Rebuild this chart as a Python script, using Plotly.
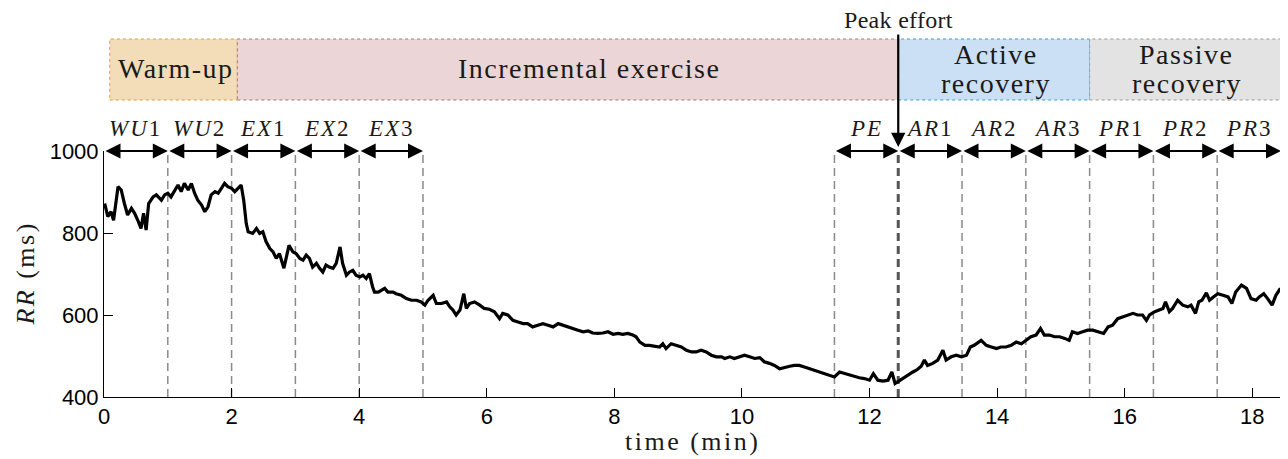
import plotly.graph_objects as go

# ---------------- data ----------------
t_min = [0.01, 0.06, 0.11, 0.15, 0.22, 0.27, 0.32, 0.37, 0.43, 0.48, 0.53, 0.58, 0.62, 0.66, 0.70, 0.77, 0.82, 0.90, 0.95,
         1.00, 1.05, 1.11, 1.16, 1.21, 1.26, 1.32, 1.37, 1.42, 1.47, 1.53, 1.58, 1.63, 1.68, 1.74, 1.79, 1.84, 1.89, 1.94,
         2.00, 2.05, 2.10, 2.15, 2.19, 2.23, 2.26, 2.33, 2.39, 2.44, 2.49, 2.54, 2.60, 2.65, 2.70, 2.75, 2.82, 2.86, 2.90,
         2.96, 3.01, 3.07, 3.12, 3.17, 3.22, 3.27, 3.33, 3.38, 3.43, 3.48, 3.53, 3.59, 3.64, 3.70, 3.74, 3.80, 3.85, 3.90,
         3.95, 4.01, 4.06, 4.11, 4.16, 4.21, 4.24, 4.30, 4.35, 4.40, 4.45, 4.53, 4.58, 4.66, 4.74, 4.82, 4.90, 4.97, 5.03,
         5.08, 5.16, 5.21, 5.29, 5.37, 5.42, 5.47, 5.52, 5.58, 5.64, 5.68, 5.73, 5.81, 5.89, 5.96,
         6.04, 6.12, 6.20, 6.25, 6.33, 6.41, 6.49, 6.57, 6.64, 6.72, 6.80, 6.88, 6.96, 7.04, 7.12, 7.19, 7.27, 7.35, 7.43,
         7.51, 7.59, 7.66, 7.74, 7.82, 7.90, 7.98, 8.06, 8.13, 8.21, 8.29, 8.34, 8.40, 8.48, 8.55, 8.63, 8.71, 8.76, 8.81,
         8.89, 8.97, 9.05, 9.13, 9.21, 9.28, 9.36, 9.44, 9.52, 9.60,
         9.68, 9.73, 9.81, 9.88, 9.96, 10.04, 10.12, 10.20, 10.28, 10.35, 10.43, 10.51, 10.59, 10.67, 10.75, 10.82, 10.90,
         10.98, 11.06, 11.14, 11.22, 11.30, 11.37, 11.45, 11.53, 11.61, 11.69, 11.77, 11.84, 11.92, 12.00, 12.06, 12.13,
         12.21, 12.29, 12.35, 12.40, 12.44,
         12.52, 12.60, 12.68, 12.75, 12.81, 12.86, 12.91, 12.99, 13.07, 13.15, 13.20, 13.28, 13.36, 13.44, 13.52, 13.58,
         13.64, 13.75, 13.83, 13.91, 13.99, 14.06, 14.14, 14.22, 14.30, 14.38, 14.46, 14.53, 14.61, 14.68, 14.74, 14.82,
         14.90, 14.98, 15.06, 15.13, 15.18, 15.26, 15.34, 15.42, 15.50,
         15.60, 15.67, 15.74, 15.81, 15.89, 15.97, 16.05, 16.13, 16.20, 16.28, 16.34, 16.39, 16.47, 16.55, 16.60, 16.64,
         16.70, 16.75, 16.83, 16.91, 16.99, 17.04, 17.11, 17.16, 17.21, 17.28, 17.33, 17.39, 17.46, 17.54, 17.62, 17.68,
         17.74, 17.83, 17.91, 17.98, 18.06, 18.11, 18.18, 18.24, 18.31, 18.37, 18.44]

rr_ms = [872, 840, 852, 831, 913, 905, 872, 844, 860, 848, 831, 811, 848, 807, 872, 888, 893, 880, 893,
         897, 888, 905, 917, 901, 921, 905, 921, 897, 880, 868, 852, 864, 893, 901, 897, 909, 921, 913,
         909, 901, 909, 917, 880, 823, 803, 799, 811, 799, 803, 779, 762, 754, 738, 750, 714, 746, 770,
         754, 750, 738, 734, 746, 738, 717, 726, 714, 705, 722, 717, 714, 726, 766, 726, 697, 705, 709,
         697, 693, 697, 689, 701, 669, 656, 656, 661, 665, 656, 656, 652, 648, 640, 636, 636, 632, 624,
         636, 648, 628, 628, 632, 620, 612, 600, 612, 652, 616, 628, 632, 624, 616,
         614, 608, 591, 604, 600, 587, 583, 579, 579, 571, 575, 579, 575, 571, 579, 575, 571, 567, 563,
         559, 561, 556, 555, 556, 559, 553, 555, 553, 555, 551, 547, 534, 526, 526, 524, 522, 530, 518,
         530, 526, 522, 514, 510, 510, 514, 510, 502, 498,
         498, 494, 498, 494, 499, 502, 498, 494, 496, 486, 482, 477, 469, 473, 475, 477, 477,
         473, 469, 465, 461, 457, 453, 449, 461, 457, 453, 449, 447, 445, 441, 457, 441,
         439, 441, 461, 433, 437,
         445, 455, 461, 467, 475, 490, 477, 482, 490, 514, 490, 498, 502, 498, 502, 522,
         526, 538, 526, 522, 518, 522, 522, 526, 534, 530, 538, 547, 551, 567, 551, 551,
         547, 547, 543, 538, 559, 555, 559, 563, 563,
         559, 555, 571, 575, 591, 595, 600, 604, 600, 600, 587, 600, 608, 612, 616, 632,
         608, 616, 636, 624, 620, 624, 604, 632, 636, 654, 636, 644, 652, 648, 644, 628,
         656, 673, 665, 640, 636, 644, 652, 640, 624, 648, 665]

x_ticks = [0, 2, 4, 6, 8, 10, 12, 14, 16, 18]
y_ticks = [400, 600, 800, 1000]

seg_names = ["<i>WU</i>1", "<i>WU</i>2", "<i>EX</i>1", "<i>EX</i>2", "<i>EX</i>3",
             "<i>PE</i>", "<i>AR</i>1", "<i>AR</i>2", "<i>AR</i>3", "<i>PR</i>1", "<i>PR</i>2", "<i>PR</i>3"]
seg_start = [0, 1, 2, 3, 4, 11.45, 12.45, 13.45, 14.45, 15.45, 16.45, 17.45]
seg_end = [1, 2, 3, 4, 5, 12.45, 13.45, 14.45, 15.45, 16.45, 17.45, 18.45]

phase_lines = [["Warm-up"], ["Incremental exercise"], ["Active", "recovery"], ["Passive", "recovery"]]
phase_start = [0.09, 2.09, 12.45, 15.45]
phase_end = [2.09, 12.45, 15.45, 18.45]
phase_label_x = [1.13, 7.61, 13.98, 16.97]
phase_fill = ["#f3ddb9", "#ebd5d6", "#cce0f5", "#e3e3e3"]
phase_edge = ["#e39a3a", "#a87878", "#3c9ad8", "#999999"]

peak_time = 12.45
x_max = 18.45

# ---------------- figure ----------------
SERIF = "Liberation Serif"
SANS = "Liberation Sans"
H = 246.0
B = 397.0


def py(px):
    """screen pixel row -> paper y"""
    return (B - px) / H


def sp(txt, s=1.5):
    return f'<span style="letter-spacing:{s}px">{txt}</span>'


fig = go.Figure()
fig.add_trace(go.Scatter(x=t_min, y=rr_ms, mode="lines",
                         line=dict(color="black", width=3.2), hoverinfo="skip", showlegend=False))

shapes = []
for xv in sorted(set(seg_start[1:] + seg_end[:5])):
    if abs(xv - peak_time) < 1e-9:
        continue
    shapes.append(dict(type="line", xref="x", yref="y", x0=xv, x1=xv, y0=400, y1=1000,
                       line=dict(color="#8a8a8a", width=1.5, dash="8px,5px"), layer="below"))
shapes.append(dict(type="line", xref="x", yref="y", x0=peak_time, x1=peak_time, y0=400, y1=1000,
                   line=dict(color="#555555", width=3, dash="8px,5px"), layer="below"))

for i in range(len(phase_start)):
    shapes.append(dict(type="rect", xref="x", yref="paper", x0=phase_start[i], x1=phase_end[i],
                       y0=py(100), y1=py(39), fillcolor=phase_fill[i],
                       line=dict(color=phase_edge[i], width=1, dash="dot"), layer="above"))

annotations = []
for i in range(len(phase_start)):
    lines = phase_lines[i]
    ys = [py(68)] if len(lines) == 1 else [py(54), py(84)]
    for txt, yy in zip(lines, ys):
        annotations.append(dict(x=phase_label_x[i], y=yy, xref="x", yref="paper", text=sp(txt), showarrow=False,
                                font=dict(family=SERIF, size=28, color="#1a1a1a"),
                                xanchor="center", yanchor="middle"))

for i in range(len(seg_names)):
    annotations.append(dict(x=seg_end[i], y=1000, ax=seg_start[i], ay=1000, xref="x", yref="y",
                            axref="x", ayref="y", text="", showarrow=True, arrowside="end+start",
                            arrowhead=2, startarrowhead=2, arrowsize=1.5, startarrowsize=1.5,
                            arrowwidth=2, arrowcolor="black", standoff=0, startstandoff=0))
    annotations.append(dict(x=(seg_start[i] + seg_end[i]) / 2, y=py(128), xref="x", yref="paper",
                            text=sp(seg_names[i], 2), showarrow=False,
                            font=dict(family=SERIF, size=23, color="#1a1a1a"),
                            xanchor="center", yanchor="middle"))

annotations.append(dict(x=peak_time, y=py(147), xref="x", yref="paper", text=sp("Peak effort", 0.3),
                        showarrow=True, ax=0, ay=-127, arrowhead=2, arrowsize=1.3, arrowwidth=2.2,
                        arrowcolor="black", standoff=0,
                        font=dict(family=SERIF, size=24, color="#1a1a1a")))

annotations.append(dict(x=0.5, y=py(441), xref="paper", yref="paper", text=sp("time (min)", 2.5),
                        showarrow=False, font=dict(family=SERIF, size=26, color="#1a1a1a"),
                        xanchor="center", yanchor="middle"))
annotations.append(dict(x=-0.0675, y=0.5, xref="paper", yref="paper", text=sp("<i>RR</i> (ms)", 2.5),
                        showarrow=False, textangle=-90, font=dict(family=SERIF, size=26, color="#1a1a1a"),
                        xanchor="center", yanchor="middle"))

# page body has an 8px margin, so the figure is drawn 8px right/down
fig.update_layout(
    width=1280, height=451,
    margin=dict(l=96, r=7, t=143, b=62, autoexpand=False),
    paper_bgcolor="white", plot_bgcolor="white",
    shapes=shapes, annotations=annotations,
    showlegend=False,
    xaxis=dict(range=[0, x_max], tickvals=x_ticks, ticks="inside", ticklen=9, tickwidth=1,
               tickcolor="black", showline=True, linecolor="black", linewidth=1, showgrid=False,
               zeroline=False, mirror=False, automargin=False,
               tickfont=dict(family=SANS, size=22, color="black")),
    yaxis=dict(range=[400, 1000], tickvals=y_ticks, ticks="inside", ticklen=9, tickwidth=1,
               tickcolor="black", showline=True, linecolor="black", linewidth=1, showgrid=False,
               zeroline=False, mirror=True, automargin=False,
               tickfont=dict(family=SANS, size=22, color="black")),
)

fig.write_html("out.html")
